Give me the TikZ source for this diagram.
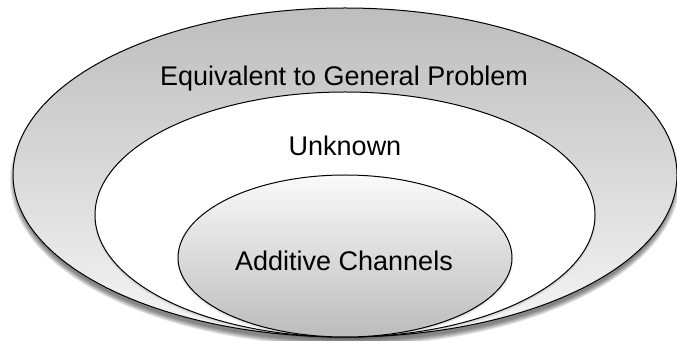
\documentclass[tikz,border=0pt]{standalone}
\usepackage{fontspec}
\setmainfont{Liberation Sans}
\newcommand\eggpath[5]{({#1-(#3)},#2) arc[start angle=180,end angle=0,x radius={#3},y radius={#4}] arc[start angle=0,end angle=-180,x radius={#3},y radius={#5}] -- cycle}
\definecolor{outtop}{HTML}{BDBDBD}
\definecolor{outbot}{HTML}{F6F6F6}
\definecolor{intop}{HTML}{FAFAFA}
\definecolor{inbot}{HTML}{BCBCBC}
\tikzset{
  egg/.style={draw=black,line width=1pt},
  lbl/.style={anchor=base,font=\fontsize{27}{32}\selectfont,text=black,inner sep=0pt},
}
\begin{document}
\begin{tikzpicture}[x=1pt,y=1pt]
\useasboundingbox (0,0) rectangle (677,340);
% soft shadow of the outer shape
\foreach \d in {0,1,2,3,4,5}
  \fill[black,opacity=0.1] \eggpath{345}{160}{332+\d-2}{167+\d-2}{163+\d-2};
% outer
\shade[top color=outtop,bottom color=outbot] \eggpath{345}{165}{332}{167}{162};
\draw[egg] \eggpath{345}{165}{332}{167}{162};
% middle shadow
\foreach \d in {0,1,2}
  \fill[black,opacity=0.05] \eggpath{345}{123}{250+\d-1}{123+\d-1}{122+\d-1};
% middle
\fill[white] \eggpath{345}{125}{250}{123}{122};
\draw[egg] \eggpath{345}{125}{250}{123}{122};
% inner shadow
\foreach \d in {0,1,2}
  \fill[black,opacity=0.05] \eggpath{345}{80}{167+\d-1}{83+\d-1}{79+\d-1};
% inner
\shade[top color=intop,bottom color=inbot] \eggpath{345}{82}{167}{83}{79};
\draw[egg] \eggpath{345}{82}{167}{83}{79};
% labels
\node[lbl] (general) at (344,254) {Equivalent to General Problem};
\node[lbl] (unknown) at (345,184) {Unknown};
\node[lbl] (additive) at (344,70) {Additive Channels};
\end{tikzpicture}
\end{document}
